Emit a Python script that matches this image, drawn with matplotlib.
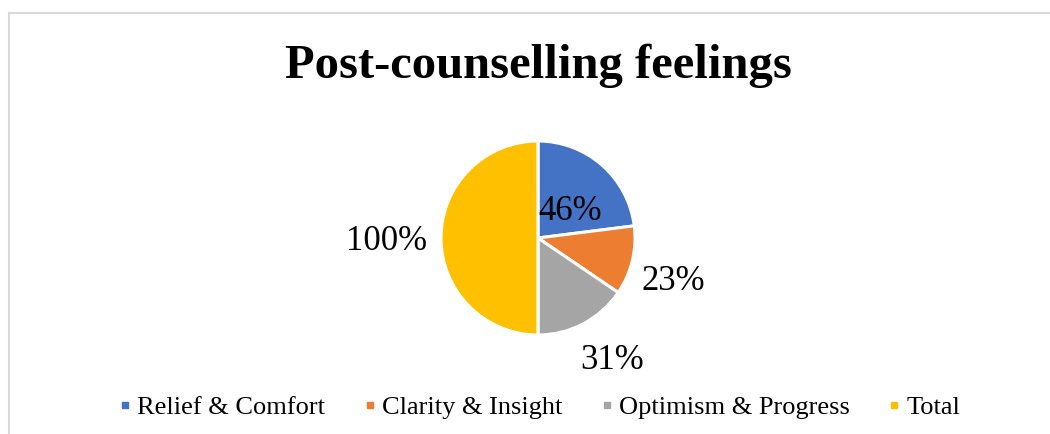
import numpy as np
import matplotlib.pyplot as plt
from matplotlib.lines import Line2D

categories = ["Relief & Comfort", "Clarity & Insight", "Optimism & Progress", "Total"]
values = [46, 23, 31, 100]
colors = ["#4472C4", "#ED7D31", "#A5A5A5", "#FFC000"]
title = "Post-counselling feelings"

plt.rcParams["font.family"] = ["Liberation Serif", "DejaVu Serif"]

W, H = 1050, 434
fig = plt.figure(figsize=(W / 100, H / 100), dpi=100)
fig.patch.set_facecolor("white")

# chart-area frame (only top and left edges fall inside the canvas)
frame_col = "#D9D9D9"
fig.add_artist(Line2D([9 / W, 1], [1 - 12.5 / H, 1 - 12.5 / H], color=frame_col, lw=1.5,
                      transform=fig.transFigure))
fig.add_artist(Line2D([9 / W, 9 / W], [0, 1 - 12.5 / H], color=frame_col, lw=1.5,
                      transform=fig.transFigure))

fig.text(538 / W, 1 - 66 / H, title, ha="center", va="center",
         fontsize=35, fontweight="bold")

# pie axes: center (538, 238) px, radius 97 px
cx, cy, r = 538, 238, 97
ax = fig.add_axes([(cx - r) / W, (H - cy - r) / H, 2 * r / W, 2 * r / H])

wedges, _ = ax.pie(values, colors=colors, startangle=90, counterclock=False,
                   radius=1, wedgeprops=dict(edgecolor="white", linewidth=2.2))
ax.set_xlim(-1, 1)
ax.set_ylim(-1, 1)
ax.set_aspect("equal")
ax.axis("off")

label_dist = [0.45, 1.45, 1.45, 1.56]
label_angle_shift = [-6, -3, 4, 0]
for w, v, d, s in zip(wedges, values, label_dist, label_angle_shift):
    ang = np.deg2rad((w.theta1 + w.theta2) / 2 + s)
    ax.text(d * np.cos(ang), d * np.sin(ang) - 0.036, f"{v}%", ha="center", va="center",
            fontsize=25, clip_on=False)

handles = [Line2D([], [], marker="s", linestyle="none", markersize=5,
                  markerfacecolor=c, markeredgecolor=c) for c in colors]
fig.legend(handles, categories, loc="center", bbox_to_anchor=(540 / W, 1 - 407 / H),
           ncol=4, frameon=False, fontsize=19, handlelength=0.4, handletextpad=0.25,
           columnspacing=1.5, borderaxespad=0, borderpad=0)

fig.savefig("out.png", dpi=100, facecolor="white")
